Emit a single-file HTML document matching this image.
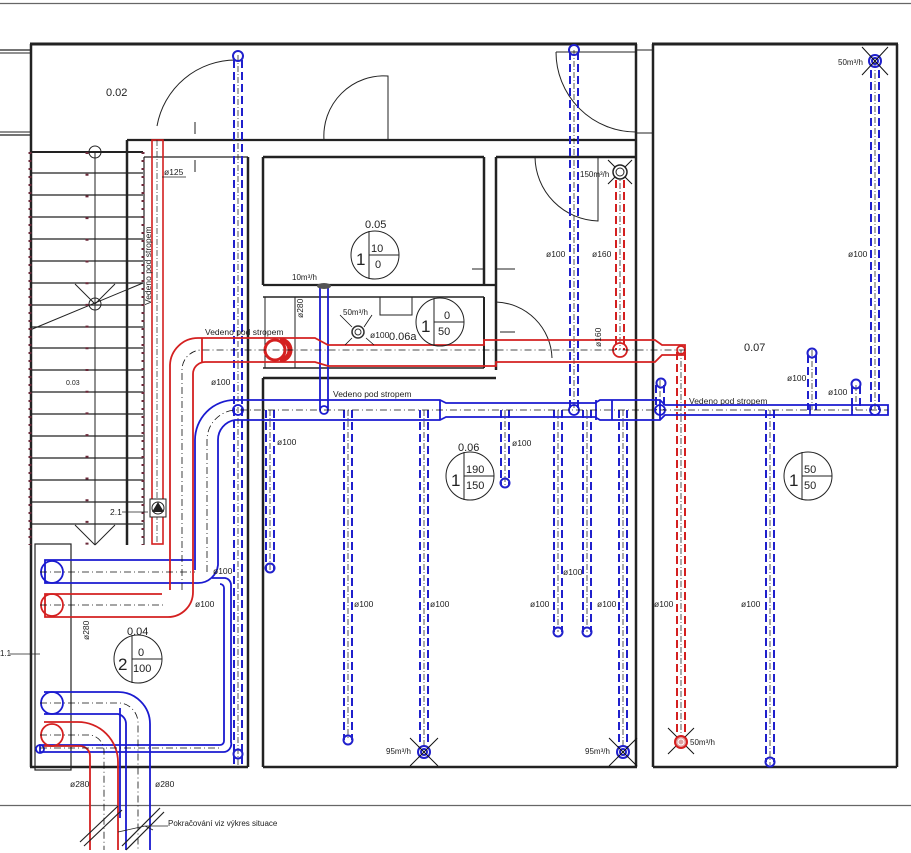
<!DOCTYPE html>
<html><head><meta charset="utf-8"><style>
html,body{margin:0;padding:0;background:#fff}
svg{display:block}
text{font-family:"Liberation Sans",sans-serif;fill:#222}
</style></head><body>
<svg width="911" height="853" viewBox="0 0 911 853" xmlns="http://www.w3.org/2000/svg">
<defs>
<g id="vdb"><line x1="-4" y1="0" x2="-4" y2="1" stroke="#1a1acc" stroke-width="2" stroke-dasharray="8 4"/></g>
</defs>
<rect width="911" height="853" fill="#fff"/>
<!-- frame lines -->
<line x1="0" y1="3.5" x2="911" y2="3.5" stroke="#666" stroke-width="1.2"/>
<line x1="0" y1="805.5" x2="911" y2="805.5" stroke="#666" stroke-width="1.2"/>

<!-- WALLS -->
<g stroke="#222" fill="none">
<line x1="30" y1="44" x2="637" y2="44" stroke-width="3"/>
<line x1="652" y1="44" x2="898" y2="44" stroke-width="3"/>
<line x1="0" y1="50" x2="30" y2="50" stroke-width="1.2"/><line x1="0" y1="53" x2="30" y2="53" stroke-width="1"/>
<line x1="0" y1="132" x2="30" y2="132" stroke-width="1"/><line x1="0" y1="135" x2="30" y2="135" stroke-width="1.2"/>
<line x1="31" y1="44" x2="31" y2="545" stroke-width="2.5"/>
<line x1="30" y1="152" x2="143" y2="152" stroke-width="2"/>
<line x1="127" y1="140" x2="637" y2="140" stroke-width="2.2"/>
<line x1="127" y1="140" x2="127" y2="545" stroke-width="2.5"/>
<line x1="144" y1="157" x2="144" y2="545" stroke-width="1.2"/>
<line x1="144" y1="157" x2="248" y2="157" stroke-width="1.2"/>
<line x1="248" y1="157" x2="248" y2="767" stroke-width="2.5"/>
<line x1="263" y1="157" x2="263" y2="285" stroke-width="2.5"/>
<line x1="263" y1="157" x2="484" y2="157" stroke-width="2.5"/>
<line x1="263" y1="285" x2="497" y2="285" stroke-width="2.2"/>
<line x1="484" y1="157" x2="484" y2="285" stroke-width="2.5"/>
<line x1="496" y1="157" x2="496" y2="370" stroke-width="2.5"/>
<line x1="496" y1="157" x2="637" y2="157" stroke-width="2.5"/>
<line x1="263" y1="297" x2="484" y2="297" stroke-width="1.5"/>
<line x1="484" y1="297" x2="484" y2="368" stroke-width="2"/>
<line x1="263" y1="368" x2="484" y2="368" stroke-width="1.5"/>
<line x1="263" y1="378" x2="496" y2="378" stroke-width="2.5"/>
<line x1="263" y1="378" x2="263" y2="767" stroke-width="2.5"/>
<line x1="636" y1="44" x2="636" y2="767" stroke-width="2.5"/>
<line x1="653" y1="44" x2="653" y2="767" stroke-width="2.5"/>
<line x1="637" y1="50" x2="652" y2="50" stroke-width="1"/><line x1="637" y1="133" x2="652" y2="133" stroke-width="1"/>
<line x1="897" y1="44" x2="897" y2="767" stroke-width="2.5"/>
<line x1="263" y1="767" x2="637" y2="767" stroke-width="2.5"/>
<line x1="653" y1="767" x2="897" y2="767" stroke-width="2.5"/>
<line x1="30" y1="767" x2="248" y2="767" stroke-width="2.5"/>
<line x1="31" y1="545" x2="31" y2="767" stroke-width="2.5"/>
<rect x="35" y="544" width="36" height="226" stroke-width="1.2"/>
<!-- door openings / doors -->
<path d="M157 126 A80 80 0 0 1 236 60" stroke-width="1"/>
<path d="M324 140 A60 60 0 0 1 388 76 L388 140" stroke-width="1"/>
<path d="M556 52 L637 52 M556 52 A80 80 0 0 0 636 132" stroke-width="1"/>
<path d="M535 157 A65 65 0 0 0 598 221 L598 157" stroke-width="1"/>
<path d="M496 302 A58 58 0 0 1 552 358" stroke-width="1"/>
<line x1="175" y1="140" x2="215" y2="140" stroke-width="1"/><line x1="175" y1="157" x2="215" y2="157" stroke-width="1"/>
<line x1="195" y1="122" x2="195" y2="134" stroke-width="1"/><line x1="195" y1="160" x2="195" y2="172" stroke-width="1"/>
<rect x="265" y="297" width="30" height="71" stroke-width="1"/>
<rect x="380" y="297" width="32" height="18" stroke-width="1"/>
<line x1="472" y1="269" x2="484" y2="269" stroke-width="1"/><line x1="497" y1="269" x2="515" y2="269" stroke-width="1"/>
<line x1="500" y1="332" x2="515" y2="332" stroke-width="1"/>
</g>

<!-- STAIRS -->
<g stroke="#222" stroke-width="1.2">
<line x1="30" y1="173" x2="143" y2="173"/><line x1="30" y1="195" x2="143" y2="195"/><line x1="30" y1="217" x2="143" y2="217"/><line x1="30" y1="239" x2="143" y2="239"/><line x1="30" y1="261" x2="143" y2="261"/><line x1="30" y1="283" x2="143" y2="283"/><line x1="30" y1="305" x2="143" y2="305"/><line x1="30" y1="327" x2="143" y2="327"/><line x1="30" y1="348" x2="143" y2="348"/><line x1="30" y1="370" x2="143" y2="370"/><line x1="30" y1="392" x2="143" y2="392"/><line x1="30" y1="414" x2="143" y2="414"/><line x1="30" y1="436" x2="143" y2="436"/><line x1="30" y1="458" x2="143" y2="458"/><line x1="30" y1="480" x2="143" y2="480"/><line x1="30" y1="502" x2="143" y2="502"/><line x1="30" y1="524" x2="143" y2="524"/>
<line x1="95" y1="152" x2="95" y2="545" stroke-width="1"/>
<line x1="30" y1="330" x2="143" y2="283" stroke-width="1"/>
<line x1="75" y1="284" x2="95" y2="304" stroke-width="1"/><line x1="115" y1="284" x2="95" y2="304" stroke-width="1"/>
<line x1="75" y1="525" x2="95" y2="545" stroke-width="1"/><line x1="115" y1="525" x2="95" y2="545" stroke-width="1"/>
<line x1="30" y1="152" x2="30" y2="545" stroke="#6b2a3a" stroke-width="3" stroke-dasharray="2 6"/>
<line x1="143" y1="152" x2="143" y2="545" stroke="#6b2a3a" stroke-width="3" stroke-dasharray="2 6"/>
<line x1="87" y1="152" x2="87" y2="545" stroke="#6b2a3a" stroke-width="3" stroke-dasharray="2 19.7"/>
</g>
<circle cx="95" cy="152" r="6" fill="none" stroke="#222"/>
<circle cx="95" cy="304" r="6" fill="none" stroke="#222"/>

<!-- RED vertical thin duct corridor -->
<g fill="none" stroke="#d42020" stroke-width="1.6">
<rect x="152" y="140" width="11" height="404"/>
<line x1="157" y1="140" x2="157" y2="544" stroke="#222" stroke-width="0.7" stroke-dasharray="6 2 1 2"/>
</g>
<rect x="150" y="499" width="16" height="18" fill="#fff" stroke="#222"/>
<circle cx="158" cy="508" r="6" fill="none" stroke="#222"/>
<path d="M152 512 L158 502 L164 512 Z" fill="#222"/>

<!-- BLUE dashed vertical ducts -->
<g fill="none" stroke-width="2" stroke-dasharray="8 4">
<g stroke="#2020cc">
<path d="M234 60V768M242 60V768"/>
<path d="M570 52V410M578 52V410"/>
<path d="M871 70V410M879 70V410"/>
<path d="M266 410V570M274 410V570"/>
<path d="M344 410V740M352 410V740"/>
<path d="M420 410V745M428 410V745"/>
<path d="M501 410V485M509 410V485"/>
<path d="M554 410V632M562 410V632"/>
<path d="M583 410V632M591 410V632"/>
<path d="M619 410V748M627 410V748"/>
<path d="M766 410V762M774 410V762"/>
<path d="M808 355V410M816 355V410"/>
<path d="M852 386V410M860 386V410"/>
<path d="M656 385V410M664 385V410"/>
</g>
<g stroke="#d42020">
<path d="M616 180V350M624 180V350"/>
<path d="M677 352V742M685 352V742"/>
</g>
</g>
<g fill="none" stroke="#111" stroke-width="0.7" stroke-dasharray="6 2 1 2">
<path d="M238 55V770M574 50V410M875 62V410M270 410V570M348 410V740M424 410V748M505 410V485M558 410V632M587 410V632M623 410V750M770 410V765M812 350V410M856 385V410M660 380V410M620 172V350M681 350V745"/>
</g>
<g fill="none" stroke="#2020cc" stroke-width="2">
<circle cx="238" cy="56" r="5"/><circle cx="574" cy="50" r="5"/>
<circle cx="270" cy="568" r="4.5"/><circle cx="348" cy="740" r="4.5"/><circle cx="505" cy="483" r="4.5"/><circle cx="558" cy="632" r="4.5"/><circle cx="587" cy="632" r="4.5"/><circle cx="770" cy="762" r="4.5"/><circle cx="238" cy="754" r="4.5"/>
<circle cx="812" cy="353" r="4.5"/><circle cx="856" cy="384" r="4.5"/><circle cx="661" cy="383" r="4.5"/>
<circle cx="875" cy="61" r="6"/><circle cx="875" cy="61" r="3"/>
<circle cx="424" cy="752" r="6"/><circle cx="424" cy="752" r="3"/>
<circle cx="623" cy="752" r="6"/><circle cx="623" cy="752" r="3"/>
</g>
<g fill="none" stroke="#111" stroke-width="1">
<path d="M862 47L888 75M888 47L862 75M410 738L438 766M438 738L410 766M609 738L637 766M637 738L609 766M668 728L694 754M694 728L668 754M608 160L632 184M632 160L608 184"/>
</g>
<circle cx="620" cy="172" r="7" fill="#fff" stroke="#222" stroke-width="1.5"/><circle cx="620" cy="172" r="4" fill="none" stroke="#222"/>
<circle cx="681" cy="742" r="6" fill="#e0a0a0" stroke="#d42020" stroke-width="2"/><circle cx="681" cy="742" r="3" fill="none" stroke="#fff"/>

<!-- BLUE main horizontal duct -->
<g fill="none" stroke="#1a1ad0" stroke-width="1.8">
<path d="M195 570 V440 A40 40 0 0 1 235 400 H440 L446 403 H595 L600 400 H660 L665 405 H888 V415 H665 L660 420 H600 L595 417 H446 L440 420 H235 A20 20 0 0 0 218 440 V565 A20 20 0 0 1 198 583 H45 V560 H192"/>
<line x1="440" y1="400" x2="440" y2="420"/><line x1="596" y1="400" x2="596" y2="420"/><line x1="660" y1="400" x2="660" y2="420"/><line x1="612" y1="400" x2="612" y2="420"/><line x1="810" y1="405" x2="810" y2="415"/><line x1="852" y1="405" x2="852" y2="415"/>
<path d="M212 578 H225 A7 7 0 0 1 231 585 V742 A8 8 0 0 1 223 752 H40 V745 H220 A4 4 0 0 0 224 741 V588 A4 4 0 0 0 220 584"/>
<path d="M44 692 H118 A32 32 0 0 1 150 724 V818 M44 714 H118 A10 10 0 0 1 126 724 V818"/>
<line x1="320" y1="288" x2="320" y2="410"/><line x1="328" y1="288" x2="328" y2="410"/>
<circle cx="52" cy="572" r="11"/><circle cx="52" cy="703" r="11"/><circle cx="40" cy="749" r="4"/>
<circle cx="324" cy="410" r="4"/><circle cx="238" cy="410" r="5"/><circle cx="574" cy="410" r="5"/><circle cx="875" cy="410" r="5"/><circle cx="660" cy="410" r="5"/>
</g>
<path d="M120 708 V818" stroke="#1a1ad0" stroke-width="1.8" fill="none"/>
<path d="M150 818 V850 M126 818 V850" stroke="#1a1ad0" stroke-width="1.8"/>
<ellipse cx="324" cy="286" rx="7" ry="3" fill="#555"/>

<!-- RED main horizontal duct -->
<g fill="none" stroke="#d42020" stroke-width="1.8">
<path d="M170 590 V365 A28 28 0 0 1 198 338 H315 L328 345 H484 V340 H655 L662 345 H685 V355 H662 L655 362 H496 V366 H328 L315 362 H205 A12 12 0 0 0 193 374 V592 A25 25 0 0 1 168 617 H45 V594 H162"/>
<line x1="202" y1="338" x2="202" y2="362"/>
<path d="M44 722 H78 A40 40 0 0 1 118 762 V850 M44 746 H80 A10 10 0 0 1 90 756 V850"/>
<circle cx="52" cy="605" r="11"/><circle cx="52" cy="735" r="11"/>
<circle cx="620" cy="350" r="7"/><circle cx="681" cy="350" r="4"/>
</g>
<circle cx="275" cy="350" r="10" fill="#fff" stroke="#d42020" stroke-width="3"/>
<path d="M280 340 A10 10 0 0 1 280 360" stroke="#d42020" stroke-width="5" fill="none"/>
<circle cx="358" cy="332" r="6" fill="none" stroke="#333" stroke-width="1.5"/><circle cx="358" cy="332" r="3" fill="none" stroke="#333"/>
<g stroke="#111" stroke-width="0.8" fill="none"><path d="M340 315L352 327M372 315L364 327M345 345L352 338M374 345L366 338"/></g>

<!-- center lines for main ducts -->
<g fill="none" stroke="#111" stroke-width="0.8" stroke-dasharray="7 3 1 3">
<path d="M182 590 V370 A20 20 0 0 1 200 350 H685"/>
<path d="M207 572 V440 A30 30 0 0 1 237 410 H888"/>
<path d="M40 572 H195 M40 605 H165 M40 703 H120 A20 20 0 0 1 138 723 V850 M40 735 H90 A16 16 0 0 1 104 751 V850 M40 748 H222"/>
</g>
<g stroke="#222" stroke-width="1.2"><path d="M80 842 L118 806 M84 846 L122 810 M122 846 L160 808 M126 850 L164 812"/></g>

<!-- annotation text -->
<g font-size="8.5">
<text x="164" y="175">ø125</text><line x1="162" y1="177" x2="186" y2="177" stroke="#222" stroke-width="0.8"/>
<text x="211" y="385">ø100</text>
<text x="277" y="445">ø100</text>
<text x="512" y="446">ø100</text>
<text x="213" y="574">ø100</text>
<text x="195" y="607">ø100</text>
<text x="354" y="607">ø100</text>
<text x="430" y="607">ø100</text>
<text x="530" y="607">ø100</text>
<text x="563" y="575">ø100</text>
<text x="597" y="607">ø100</text>
<text x="654" y="607">ø100</text>
<text x="741" y="607">ø100</text>
<text x="546" y="257">ø100</text>
<text x="592" y="257">ø160</text>
<text x="848" y="257">ø100</text>
<text x="787" y="381">ø100</text>
<text x="828" y="395">ø100</text>
<text x="370" y="338">ø100</text>
<text x="70" y="787">ø280</text>
<text x="155" y="787">ø280</text>
<text x="40" y="855" transform="translate(0,0)"></text>
<text x="292" y="280" font-size="8">10m³/h</text>
<text x="343" y="315" font-size="8">50m³/h</text>
<text x="838" y="65" font-size="8">50m³/h</text>
<text x="580" y="177" font-size="8">150m³/h</text>
<text x="386" y="754" font-size="8">95m³/h</text>
<text x="585" y="754" font-size="8">95m³/h</text>
<text x="690" y="745" font-size="8">50m³/h</text>
<text x="205" y="335">Vedeno pod stropem</text>
<text x="333" y="397">Vedeno pod stropem</text>
<text x="689" y="404">Vedeno pod stropem</text>
<text x="168" y="826" font-size="8">Pokračování viz výkres situace</text>
<text x="110" y="515" font-size="8.5">2.1</text>
<text x="0" y="656" font-size="8">1.1</text>
<text x="66" y="385" font-size="7">0.03</text>
<text transform="translate(151,305) rotate(-90)" font-size="8.5">Vedeno pod stropem</text>
<text transform="translate(303,318) rotate(-90)" font-size="8.5">ø280</text>
<text transform="translate(89,640) rotate(-90)" font-size="8.5">ø280</text>
<text transform="translate(601,347) rotate(-90)" font-size="8.5">ø160</text>
</g>
<g stroke="#222" stroke-width="0.8"><path d="M10 654H40M122 512H148M0 0"/></g>
<path d="M168 826H145L118 832M145 826L153 830" stroke="#222" stroke-width="0.8" fill="none"/>

<!-- room labels & circles -->
<g font-size="11">
<text x="106" y="96">0.02</text>
<text x="365" y="228">0.05</text>
<text x="389" y="340">0.06a</text>
<text x="458" y="451">0.06</text>
<text x="127" y="635">0.04</text>
<text x="744" y="351">0.07</text>
</g>
<g fill="none" stroke="#222" stroke-width="1">
<circle cx="375" cy="255" r="24"/><path d="M369 231V279M369 255H399"/>
<circle cx="440" cy="322" r="24"/><path d="M434 298V346M434 322H464"/>
<circle cx="470" cy="476" r="24"/><path d="M464 452V500M464 476H494"/>
<circle cx="808" cy="476" r="24"/><path d="M802 452V500M802 476H832"/>
<circle cx="138" cy="659" r="24"/><path d="M132 635V683M132 659H162"/>
</g>
<g font-size="11">
<text x="371" y="252">10</text><text x="375" y="268">0</text><text x="356" y="265" font-size="17">1</text>
<text x="444" y="319">0</text><text x="438" y="335">50</text><text x="421" y="332" font-size="17">1</text>
<text x="466" y="473">190</text><text x="466" y="489">150</text><text x="451" y="486" font-size="17">1</text>
<text x="804" y="473">50</text><text x="804" y="489">50</text><text x="789" y="486" font-size="17">1</text>
<text x="138" y="656">0</text><text x="133" y="672">100</text><text x="118" y="670" font-size="17">2</text>
</g>
</svg>
</body></html>
